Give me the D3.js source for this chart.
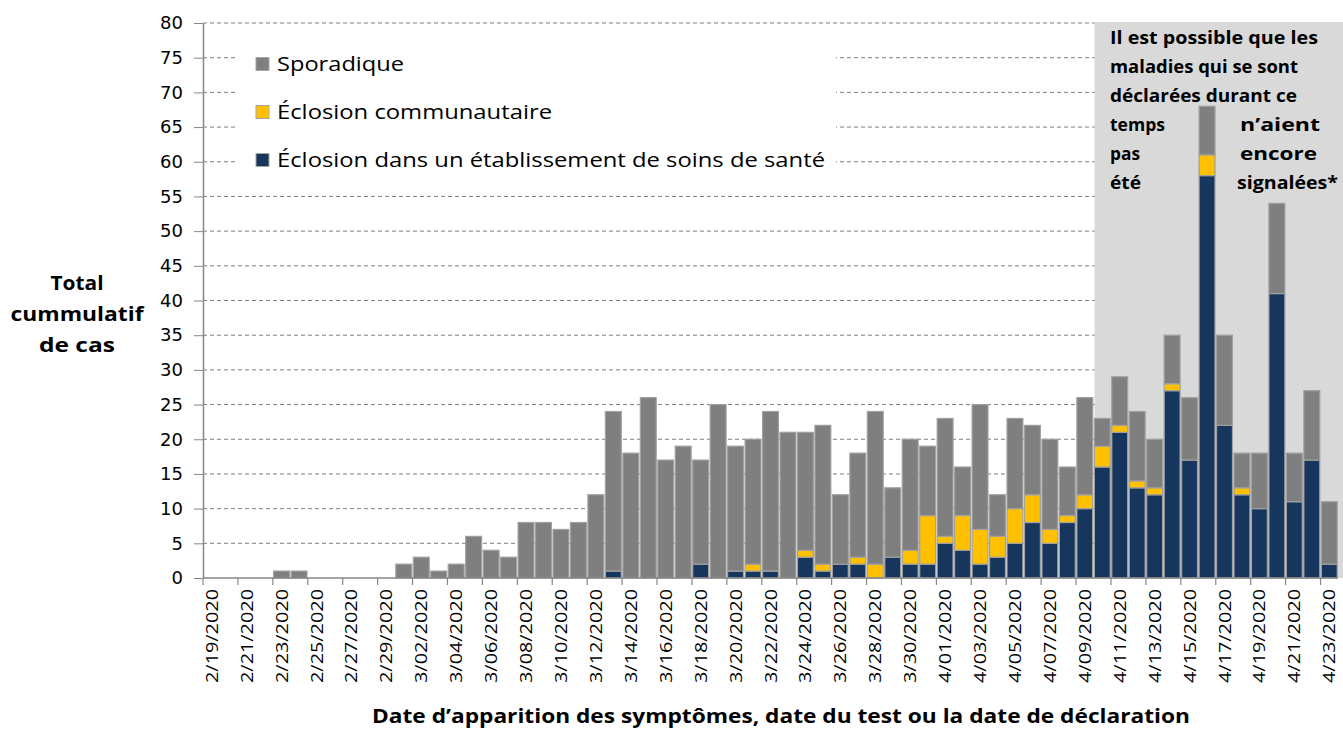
<!DOCTYPE html>
<html><head><meta charset="utf-8">
<script src="https://cdn.jsdelivr.net/npm/d3@7"></script>
<style>html,body{margin:0;padding:0;background:#fff;}svg{display:block;}</style>
</head><body><svg id="c" width="1343" height="729"></svg>
<script>
const dates = ["2/19/2020","2/20/2020","2/21/2020","2/22/2020","2/23/2020","2/24/2020","2/25/2020","2/26/2020","2/27/2020","2/28/2020","2/29/2020",
"3/01/2020","3/02/2020","3/03/2020","3/04/2020","3/05/2020","3/06/2020","3/07/2020","3/08/2020","3/09/2020","3/10/2020",
"3/11/2020","3/12/2020","3/13/2020","3/14/2020","3/15/2020","3/16/2020","3/17/2020","3/18/2020","3/19/2020","3/20/2020",
"3/21/2020","3/22/2020","3/23/2020","3/24/2020","3/25/2020","3/26/2020","3/27/2020","3/28/2020","3/29/2020","3/30/2020","3/31/2020",
"4/01/2020","4/02/2020","4/03/2020","4/04/2020","4/05/2020","4/06/2020","4/07/2020","4/08/2020","4/09/2020","4/10/2020",
"4/11/2020","4/12/2020","4/13/2020","4/14/2020","4/15/2020","4/16/2020","4/17/2020","4/18/2020","4/19/2020","4/20/2020",
"4/21/2020","4/22/2020","4/23/2020"];
const etablissement = [0,0,0,0,0,0,0,0,0,0,0, 0,0,0,0,0,0,0,0,0,0, 0,0,1,0,0,0,0,2,0,1, 1,1,0,3,1,2,2,0,3,2,2,
 5,4,2,3,5,8,5,8,10,16, 21,13,12,27,17,58,22,12,10,41, 11,17,2];
const communautaire = [0,0,0,0,0,0,0,0,0,0,0, 0,0,0,0,0,0,0,0,0,0, 0,0,0,0,0,0,0,0,0,0, 1,0,0,1,1,0,1,2,0,2,7,
 1,5,5,3,5,4,2,1,2,3, 1,1,1,1,0,3,0,1,0,0, 0,0,0];
const sporadique = [0,0,0,0,1,1,0,0,0,0,0, 2,3,1,2,6,4,3,8,8,7, 8,12,23,18,26,17,19,15,25,18, 18,23,21,17,20,10,15,22,10,16,10,
 17,7,18,6,13,10,13,7,14,4, 7,10,7,7,9,7,13,5,8,13, 7,10,9];
const yTicks = [0,5,10,15,20,25,30,35,40,45,50,55,60,65,70,75,80];
const seriesNames = ["Sporadique","Éclosion communautaire","Éclosion dans un établissement de soins de santé"];
const seriesColors = ["#7f7f7f","#ffc000","#17365d"];
const noteLeft = ["Il est possible que les","maladies qui se sont","déclarées durant ce","temps","pas","été"];
const noteRight = ["n’aient","encore","signalées*"];
const shadeStart = "4/10/2020";

const svg = d3.select("#c");
const font = "'Open Sans', sans-serif";
const L = 203, R = 1338, T = 23, B = 578;
const x = d3.scaleBand().domain(dates).range([L, R]).paddingInner(0.09).paddingOuter(0.045);
const y = d3.scaleLinear().domain([0, 80]).range([B, T]);
const step = x.step();

// helper: widen text horizontally to match the reference's wide glyphs
function fit(sel, w) { sel.attr("textLength", w).attr("lengthAdjust", "spacingAndGlyphs"); return sel; }

// gridlines
svg.append("g").selectAll("line").data(yTicks.filter(d => d > 0)).join("line")
  .attr("x1", L).attr("x2", R + 2).attr("y1", d => y(d)).attr("y2", d => y(d))
  .attr("stroke", "#7f7f7f").attr("stroke-width", 1).attr("stroke-dasharray", "4,3");

// shaded region
const sx = x(shadeStart) - step * x.paddingInner() / 2 + 1;
svg.append("rect").attr("x", sx).attr("y", y(80) - 1).attr("width", 1343 - sx).attr("height", B - y(80) + 1)
  .attr("fill", "#d9d9d9");

// legend box
svg.append("rect").attr("x", 238).attr("y", 42).attr("width", 598).attr("height", 138).attr("fill", "#fff");
const lg = svg.append("g");
const legendW = [127, 275, 548];
seriesNames.forEach((n, i) => {
  const cy = 64 + i * 48;
  lg.append("rect").attr("x", 256).attr("y", cy - 6.5).attr("width", 13).attr("height", 13)
    .attr("fill", seriesColors[i]).attr("stroke", "#a6a6a6").attr("stroke-width", 1);
  fit(lg.append("text").attr("x", 277).attr("y", cy + 7).text(n)
    .attr("font-family", font).attr("font-size", 20).attr("fill", "#000"), legendW[i]);
});

// stacked bars
const stackData = dates.map((d, i) => ({date: d, e: etablissement[i], c: communautaire[i], s: sporadique[i]}));
const stack = d3.stack().keys(["e","c","s"])(stackData);
const colByKey = {e: seriesColors[2], c: seriesColors[1], s: seriesColors[0]};
svg.append("g").selectAll("g").data(stack).join("g")
  .attr("fill", d => colByKey[d.key])
  .selectAll("rect").data(d => d.filter(v => v[1] - v[0] > 0)).join("rect")
  .attr("x", d => x(d.data.date)).attr("width", x.bandwidth())
  .attr("y", d => y(d[1])).attr("height", d => y(d[0]) - y(d[1]))
  .attr("stroke", "#a0a0a0").attr("stroke-width", 1.2);

// y axis
const ya = svg.append("g").attr("transform", `translate(${L},0)`)
  .call(d3.axisLeft(y).tickValues(yTicks).tickSize(9).tickSizeOuter(0).tickPadding(11));
ya.select(".domain").attr("stroke", "#868686").attr("stroke-width", 1.5);
ya.selectAll(".tick line").attr("stroke", "#868686");
ya.selectAll("text").attr("font-family", "'DejaVu Sans', sans-serif").attr("font-size", 18).attr("fill", "#000");

// x axis
svg.append("line").attr("x1", L).attr("x2", R).attr("y1", B).attr("y2", B)
  .attr("stroke", "#868686").attr("stroke-width", 1.5);
const labelDates = dates.filter((d, i) => i % 2 === 0);
svg.append("g").selectAll("line").data(labelDates).join("line")
  .attr("x1", d => x(d) - step * x.paddingInner() / 2).attr("x2", d => x(d) - step * x.paddingInner() / 2)
  .attr("y1", B).attr("y2", B + 7).attr("stroke", "#868686").attr("stroke-width", 1.2);
fit(svg.append("g").selectAll("text").data(labelDates).join("text")
  .attr("transform", d => `translate(${x(d) + x.bandwidth() / 2 + 6},${B + 11}) rotate(-90)`)
  .attr("text-anchor", "end").text(d => d)
  .attr("font-family", font).attr("font-size", 16).attr("fill", "#000"), 94);

// note text
const ng = svg.append("g").attr("font-family", font).attr("font-size", 18).attr("font-weight", "bold").attr("fill", "#000");
const noteLeftW = [208, 188, 187, 55, 30, 31];
const noteRightW = [80, 77, 101];
noteLeft.forEach((t, i) => fit(ng.append("text").attr("x", 1110).attr("y", 44 + i * 29).text(t), noteLeftW[i]));
noteRight.forEach((t, i) => fit(ng.append("text").attr("x", i === 2 ? 1237 : 1240).attr("y", 44 + (i + 3) * 29).text(t), noteRightW[i]));

// axis titles
const ytW = [53, 133, 76];
["Total","cummulatif","de cas"].forEach((t, i) => fit(svg.append("text").attr("x", 77 - ytW[i] / 2).attr("y", 290 + i * 31)
  .attr("font-family", font).attr("font-size", 19.5).attr("font-weight", "bold").attr("fill", "#000").text(t), ytW[i]));
fit(svg.append("text").attr("x", 372).attr("y", 723)
  .attr("font-family", font).attr("font-size", 19.5).attr("font-weight", "bold").attr("fill", "#000")
  .text("Date d’apparition des symptômes, date du test ou la date de déclaration"), 818);
</script></body></html>
